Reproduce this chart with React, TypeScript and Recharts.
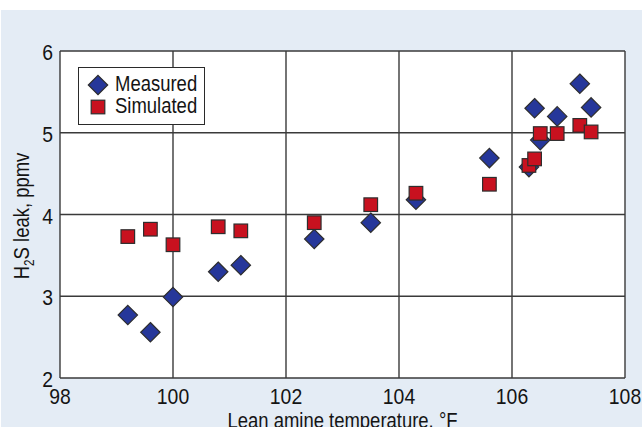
import {
  ScatterChart,
  Scatter,
  XAxis,
  YAxis,
  CartesianGrid,
  Legend,
} from "recharts";

// Lean amine temperature, °F
const measuredTemp = [99.2, 99.6, 100.0, 100.8, 101.2, 102.5, 103.5, 104.3, 105.6, 106.3, 106.4, 106.5, 106.8, 107.2, 107.4];
const measuredLeak = [2.77, 2.56, 2.99, 3.3, 3.38, 3.7, 3.9, 4.18, 4.69, 4.58, 5.3, 4.91, 5.2, 5.6, 5.31];

const simulatedTemp = [99.2, 99.6, 100.0, 100.8, 101.2, 102.5, 103.5, 104.3, 105.6, 106.3, 106.4, 106.5, 106.8, 107.2, 107.4];
const simulatedLeak = [3.73, 3.82, 3.63, 3.85, 3.8, 3.9, 4.12, 4.26, 4.37, 4.6, 4.68, 4.99, 4.99, 5.09, 5.01];

const xTicks = [98, 100, 102, 104, 106, 108];
const yTicks = [2, 3, 4, 5, 6];

const measured = measuredTemp.map((t, i) => ({ t, v: measuredLeak[i] }));
const simulated = simulatedTemp.map((t, i) => ({ t, v: simulatedLeak[i] }));

// no condensed font installed -> squeeze Liberation Sans horizontally
const FONT = "'Liberation Sans', Arial, sans-serif";
const SQUEEZE = 0.84;
const DIGIT_SQUEEZE = 0.88;
const INK = "#141414";
const BLUE = "#26379a";
const RED = "#c8111f";
const EDGE = "#2e2e2e";

const Diamond = (props: any) => {
  const { cx, cy } = props;
  const r = 9.7;
  return (
    <path
      d={`M${cx},${cy - r}L${cx + r},${cy}L${cx},${cy + r}L${cx - r},${cy}Z`}
      fill={BLUE}
      stroke={EDGE}
      strokeWidth={1.2}
    />
  );
};

const Square = (props: any) => {
  const { cx, cy } = props;
  const h = 6.8;
  return (
    <rect x={cx - h} y={cy - h} width={h * 2} height={h * 2} fill={RED} stroke={EDGE} strokeWidth={1.2} />
  );
};

function NarrowText({ x, y, anchor, sx = SQUEEZE, children }: { x: number; y: number; anchor: string; sx?: number; children: any }) {
  return (
    <text
      transform={`translate(${x},${y}) scale(${sx},1)`}
      textAnchor={anchor}
      fontFamily={FONT}
      fontSize={22}
      fill={INK}
    >
      {children}
    </text>
  );
}

const XTick = (props: any) => {
  const { x, y, payload } = props;
  return (
    <NarrowText x={x} y={y + 26} anchor="middle" sx={DIGIT_SQUEEZE}>
      {payload.value}
    </NarrowText>
  );
};

const YTick = (props: any) => {
  const { x, y, payload } = props;
  return (
    <NarrowText x={x} y={y + 9} anchor="end" sx={DIGIT_SQUEEZE}>
      {payload.value}
    </NarrowText>
  );
};

const XTitle = () => (
  <NarrowText x={342.5} y={428} anchor="middle">
    Lean amine temperature, °F
  </NarrowText>
);

const YTitle = () => (
  <text
    transform={`translate(29,216) rotate(-90) scale(${SQUEEZE},1)`}
    textAnchor="middle"
    fontFamily={FONT}
    fontSize={22}
    fill={INK}
  >
    H<tspan fontSize={14} dy={5}>2</tspan>
    <tspan dy={-5}>S leak, ppmv</tspan>
  </text>
);

function LegendBox() {
  const row = {
    position: "absolute" as const,
    left: 36,
    lineHeight: "22px",
    transform: `scaleX(${SQUEEZE})`,
    transformOrigin: "left center",
    whiteSpace: "nowrap" as const,
  };
  return (
    <div
      style={{
        width: 125,
        height: 56,
        border: "1.5px solid #2a2a2a",
        background: "#fff",
        fontFamily: FONT,
        fontSize: 22,
        color: INK,
        position: "relative",
      }}
    >
      <svg width={30} height={56} style={{ position: "absolute", left: 0, top: 0 }}>
        <Diamond cx={19} cy={17} />
        <Square cx={19} cy={39} />
      </svg>
      <div style={{ ...row, top: 5 }}>Measured</div>
      <div style={{ ...row, top: 27 }}>Simulated</div>
    </div>
  );
}

export default function App() {
  return (
    <div style={{ position: "fixed", left: 0, top: 0, width: 642, height: 427, background: "#fff" }}>
      <div style={{ position: "absolute", left: 1, top: 10, right: 0, bottom: 0, background: "#e4ecf5" }} />
      <div style={{ position: "absolute", left: 0, top: 0 }}>
        <ScatterChart width={642} height={427} margin={{ top: 51, right: 17, left: 0, bottom: 0 }}>
          <CartesianGrid
            stroke="#3a3a3a"
            strokeWidth={1.4}
            fill="#ffffff"
            fillOpacity={1}
            horizontalValues={yTicks}
            verticalValues={xTicks}
          />
          <XAxis
            type="number"
            dataKey="t"
            domain={[98, 108]}
            ticks={xTicks}
            height={49}
            axisLine={false}
            tickLine={false}
            tickSize={0}
            tickMargin={0}
            tick={XTick}
            label={{ content: XTitle }}
          />
          <YAxis
            type="number"
            dataKey="v"
            domain={[2, 6]}
            ticks={yTicks}
            width={60}
            axisLine={false}
            tickLine={false}
            tickSize={0}
            tickMargin={7}
            tick={YTick}
            label={{ content: YTitle }}
          />
          <Legend
            layout="vertical"
            align="center"
            verticalAlign="middle"
            wrapperStyle={{ left: 78, top: 67, width: 128 }}
            content={() => <LegendBox />}
          />
          <Scatter name="Measured" data={measured} shape={Diamond} isAnimationActive={false} />
          <Scatter name="Simulated" data={simulated} shape={Square} isAnimationActive={false} />
        </ScatterChart>
      </div>
    </div>
  );
}
